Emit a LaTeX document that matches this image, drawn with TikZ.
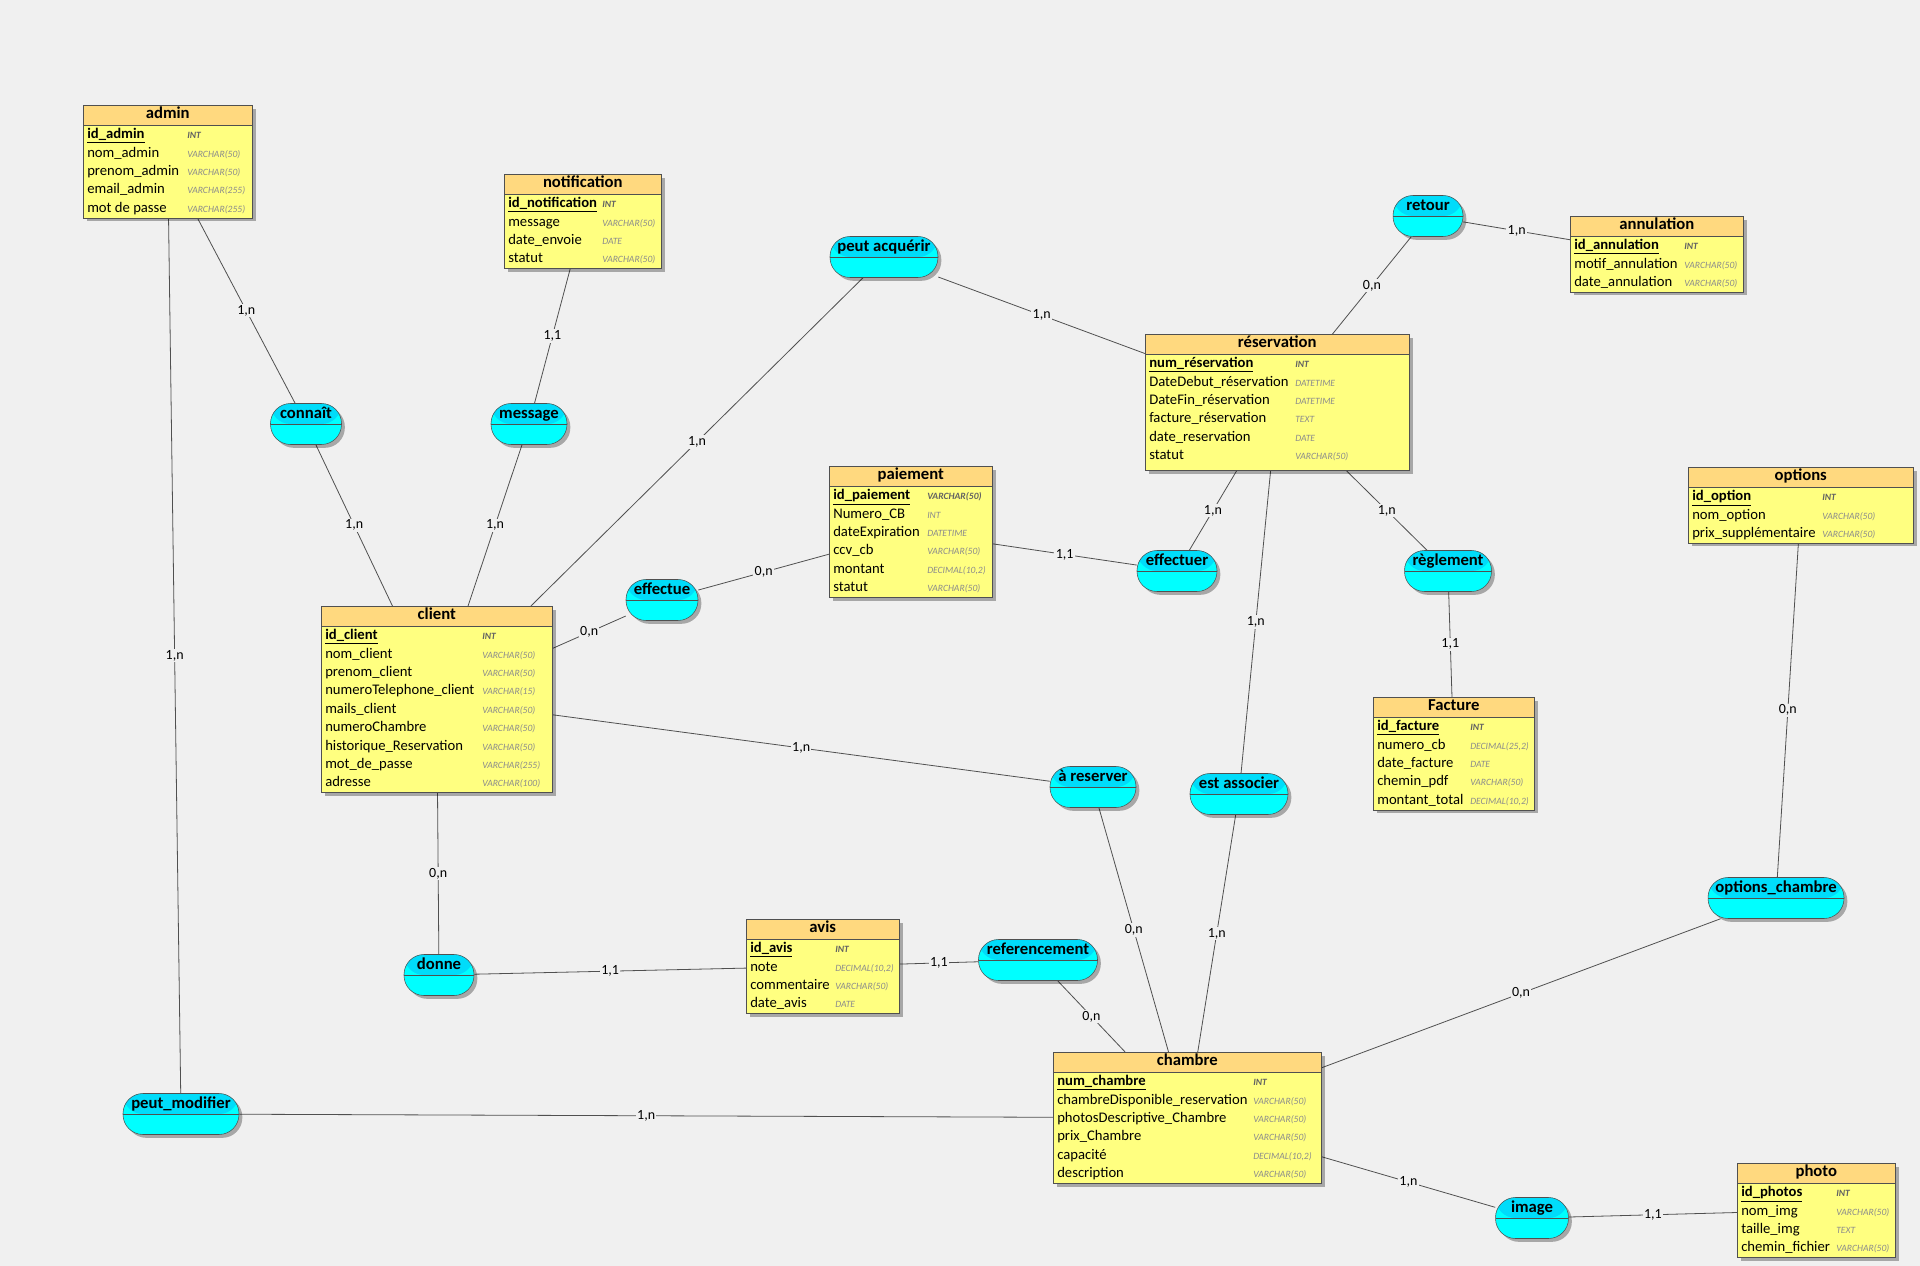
\documentclass[tikz,border=0pt]{standalone}
\usepackage{fontspec}
\setmainfont{Carlito}
\usetikzlibrary{shadows,backgrounds}
\definecolor{bgc}{HTML}{F0F0F0}
\definecolor{enthead}{HTML}{FFD97F}
\definecolor{entbody}{HTML}{FFFF80}
\definecolor{assohead}{HTML}{00DCFA}
\definecolor{assobody}{HTML}{00FFFF}
\definecolor{linec}{HTML}{505050}
\definecolor{typec}{HTML}{8C8C8C}
\newcommand{\ty}[1]{\leavevmode{\fontsize{7.2}{8}\selectfont\itshape\color{typec}#1}}
\newcommand{\tyk}[1]{\leavevmode{\fontsize{7.2}{8}\selectfont\itshape\bfseries\color{typec!70!black}#1}}
\newcommand{\pk}[1]{\leavevmode\underline{\textbf{#1}}}
\newcommand{\ttl}[1]{\multicolumn{2}{c}{\rule[-5.8pt]{0pt}{13pt}\fontsize{12.5}{13.8}\selectfont\bfseries #1}}
\tikzset{
  entity/.style={draw=linec, fill=entbody, anchor=north west, inner xsep=3pt, inner ysep=0pt,
    font=\fontsize{11}{13.8}\selectfont,
    drop shadow={shadow xshift=2.5pt, shadow yshift=-2.5pt, fill=black, opacity=0.3},
    path picture={
      \fill[enthead] (path picture bounding box.north west) rectangle ([yshift=-15pt]path picture bounding box.north east);
      \draw[linec] ([yshift=-15pt]path picture bounding box.north west) -- ([yshift=-15pt]path picture bounding box.north east);}},
  asso/.style={draw=linec, fill=assobody, rounded corners=15pt, inner xsep=0pt, inner ysep=0pt,
    minimum height=30.75pt, text height=11.5pt, text depth=19.25pt,
    font=\fontsize{12.5}{14}\selectfont\bfseries,
    drop shadow={shadow xshift=2.5pt, shadow yshift=-2.5pt, fill=black, opacity=0.3},
    path picture={
      \fill[assohead] (path picture bounding box.north west) rectangle (path picture bounding box.east);
      \draw[linec] (path picture bounding box.west) -- (path picture bounding box.east);}},
  link/.style={draw=linec, line width=0.6pt},
  card/.style={fill=bgc, inner sep=1pt, font=\fontsize{10.5}{12}\selectfont}
}
\begin{document}
\begin{tikzpicture}[x=0.75pt, y=-0.75pt]
\useasboundingbox (0,0) rectangle (1920,1266);

\node[entity] (admin) at (83,105) {\begin{tabular}{@{}p{75pt}@{}p{45.75pt}@{}}
\ttl{admin}\\
\pk{id\_admin} & \tyk{INT}\\
nom\_admin & \ty{VARCHAR(50)}\\
prenom\_admin & \ty{VARCHAR(50)}\\
email\_admin & \ty{VARCHAR(255)}\\
mot de passe & \ty{VARCHAR(255)}
\end{tabular}};

\node[entity] (notification) at (504,174) {\begin{tabular}{@{}p{70.5pt}@{}p{41.25pt}@{}}
\ttl{notification}\\
\pk{id\_notification} & \tyk{INT}\\
message & \ty{VARCHAR(50)}\\
date\_envoie & \ty{DATE}\\
statut & \ty{VARCHAR(50)}
\end{tabular}};

\node[entity] (annulation) at (1570,216) {\begin{tabular}{@{}p{82.5pt}@{}p{41.25pt}@{}}
\ttl{annulation}\\
\pk{id\_annulation} & \tyk{INT}\\
motif\_annulation & \ty{VARCHAR(50)}\\
date\_annulation & \ty{VARCHAR(50)}
\end{tabular}};

\node[entity] (reservation) at (1145,334) {\begin{tabular}{@{}p{109.5pt}@{}p{82.5pt}@{}}
\ttl{réservation}\\
\pk{num\_réservation} & \tyk{INT}\\
DateDebut\_réservation & \ty{DATETIME}\\
DateFin\_réservation & \ty{DATETIME}\\
facture\_réservation & \ty{TEXT}\\
date\_reservation & \ty{DATE}\\
statut & \ty{VARCHAR(50)}\\[4pt]
\end{tabular}};

\node[entity] (paiement) at (829,466) {\begin{tabular}{@{}p{70.5pt}@{}p{45.75pt}@{}}
\ttl{paiement}\\
\pk{id\_paiement} & \tyk{VARCHAR(50)}\\
Numero\_CB & \ty{INT}\\
dateExpiration & \ty{DATETIME}\\
ccv\_cb & \ty{VARCHAR(50)}\\
montant & \ty{DECIMAL(10,2)}\\
statut & \ty{VARCHAR(50)}
\end{tabular}};

\node[entity] (options) at (1688,467) {\begin{tabular}{@{}p{97.5pt}@{}p{65.25pt}@{}}
\ttl{options}\\
\pk{id\_option} & \tyk{INT}\\
nom\_option & \ty{VARCHAR(50)}\\
prix\_supplémentaire & \ty{VARCHAR(50)}
\end{tabular}};

\node[entity] (client) at (321,606) {\begin{tabular}{@{}p{117.75pt}@{}p{49.5pt}@{}}
\ttl{client}\\
\pk{id\_client} & \tyk{INT}\\
nom\_client & \ty{VARCHAR(50)}\\
prenom\_client & \ty{VARCHAR(50)}\\
numeroTelephone\_client & \ty{VARCHAR(15)}\\
mails\_client & \ty{VARCHAR(50)}\\
numeroChambre & \ty{VARCHAR(50)}\\
historique\_Reservation & \ty{VARCHAR(50)}\\
mot\_de\_passe & \ty{VARCHAR(255)}\\
adresse & \ty{VARCHAR(100)}
\end{tabular}};

\node[entity] (facture) at (1373,697) {\begin{tabular}{@{}p{69.75pt}@{}p{45pt}@{}}
\ttl{Facture}\\
\pk{id\_facture} & \tyk{INT}\\
numero\_cb & \ty{DECIMAL(25,2)}\\
date\_facture & \ty{DATE}\\
chemin\_pdf & \ty{VARCHAR(50)}\\
montant\_total & \ty{DECIMAL(10,2)}
\end{tabular}};

\node[entity] (avis) at (746,919) {\begin{tabular}{@{}p{63.75pt}@{}p{45pt}@{}}
\ttl{avis}\\
\pk{id\_avis} & \tyk{INT}\\
note & \ty{DECIMAL(10,2)}\\
commentaire & \ty{VARCHAR(50)}\\
date\_avis & \ty{DATE}
\end{tabular}};

\node[entity] (chambre) at (1053,1052) {\begin{tabular}{@{}p{147pt}@{}p{48pt}@{}}
\ttl{chambre}\\
\pk{num\_chambre} & \tyk{INT}\\
chambreDisponible\_reservation & \ty{VARCHAR(50)}\\
photosDescriptive\_Chambre & \ty{VARCHAR(50)}\\
prix\_Chambre & \ty{VARCHAR(50)}\\
capacité & \ty{DECIMAL(10,2)}\\
description & \ty{VARCHAR(50)}
\end{tabular}};

\node[entity] (photo) at (1737,1163) {\begin{tabular}{@{}p{71.25pt}@{}p{41.25pt}@{}}
\ttl{photo}\\
\pk{id\_photos} & \tyk{INT}\\
nom\_img & \ty{VARCHAR(50)}\\
taille\_img & \ty{TEXT}\\
chemin\_fichier & \ty{VARCHAR(50)}
\end{tabular}};

\node[asso, minimum width=52.5pt] (retour) at (1428,216) {retour};
\node[asso, minimum width=81pt] (acquerir) at (884,257) {peut acquérir};
\node[asso, minimum width=53.25pt] (connait) at (306,424) {connaît};
\node[asso, minimum width=57pt] (message) at (529,424) {message};
\node[asso, minimum width=54pt] (effectue) at (662,600) {effectue};
\node[asso, minimum width=60pt] (effectuer) at (1177,571) {effectuer};
\node[asso, minimum width=65.25pt] (reglement) at (1448,571) {règlement};
\node[asso, minimum width=64.5pt] (areserver) at (1093,787) {à reserver};
\node[asso, minimum width=73.5pt] (estassocier) at (1239,794) {est associer};
\node[asso, minimum width=102pt] (optchambre) at (1776,898) {options\_chambre};
\node[asso, minimum width=52.5pt] (donne) at (439,975) {donne};
\node[asso, minimum width=89.25pt] (referencement) at (1038,960) {referencement};
\node[asso, minimum width=87pt] (peutmodif) at (181,1114) {peut\_modifier};
\node[asso, minimum width=54.75pt] (image) at (1532,1218) {image};

\begin{scope}[on background layer]
\fill[bgc] (0,0) rectangle (1920,1266);
\foreach \a/\b/\c in {admin/connait/{1,n}, admin/peutmodif/{1,n}, connait/client/{1,n},
    notification/message/{1,1}, message/client/{1,n}, acquerir/client/{1,n},
    acquerir/reservation/{1,n}, retour/reservation/{0,n}, retour/annulation/{1,n},
    effectue/client/{0,n}, effectue/paiement/{0,n}, paiement/effectuer/{1,1},
    reservation/effectuer/{1,n}, reservation/reglement/{1,n}, reglement/facture/{1,1},
    reservation/estassocier/{1,n}, client/areserver/{1,n}, areserver/chambre/{0,n},
    estassocier/chambre/{1,n}, options/optchambre/{0,n}, optchambre/chambre/{0,n},
    client/donne/{0,n}, donne/avis/{1,1}, avis/referencement/{1,1},
    referencement/chambre/{0,n}, peutmodif/chambre/{1,n}, chambre/image/{1,n},
    image/photo/{1,1}}
  \draw[link] (\a) -- node[card] {\c} (\b);
\end{scope}
\end{tikzpicture}
\end{document}
